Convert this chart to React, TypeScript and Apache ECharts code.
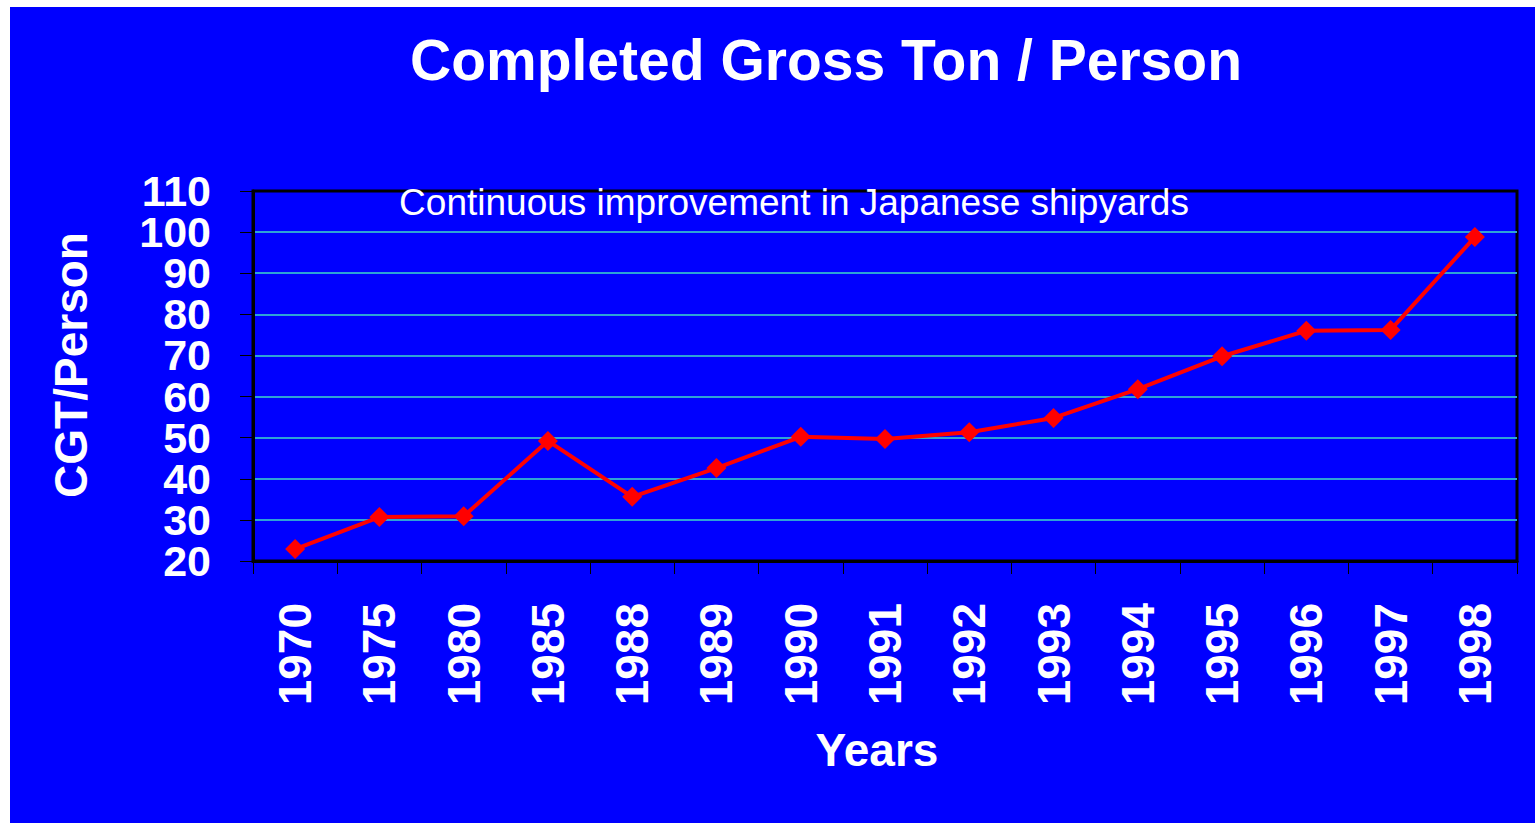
import React, { useEffect, useRef } from "react";
import * as echarts from "echarts";

const years = ["1970", "1975", "1980", "1985", "1988", "1989", "1990", "1991", "1992", "1993", "1994", "1995", "1996", "1997", "1998"];
const cgtPerPerson = [22.9, 30.7, 30.9, 49.2, 35.6, 42.6, 50.2, 49.7, 51.3, 54.8, 61.8, 69.8, 76.0, 76.2, 98.8];
const titleText = "Completed Gross Ton / Person";
const noteText = "Continuous improvement in Japanese shipyards";
const yAxisName = "CGT/Person";
const xAxisName = "Years";

export default function App() {
  const ref = useRef<HTMLDivElement>(null);
  useEffect(() => {
    const chart = echarts.init(ref.current!, null, { renderer: "svg" });
    const font = "Liberation Sans, Arial, sans-serif";
    const labelBase = {
      color: "#ffffff", fontFamily: font, fontWeight: "bold", fontSize: 43, lineHeight: 40, margin: 42,
      showMinLabel: true, showMaxLabel: true, hideOverlap: false,
    };
    chart.setOption({
      animation: false,
      backgroundColor: "#ffffff",
      graphic: [
        { type: "rect", z: -10, shape: { x: 10, y: 7, width: 1525, height: 816 }, style: { fill: "#0000ff" } },
        {
          type: "text", x: 826, y: 60, z: 10,
          style: { text: titleText, fill: "#ffffff", font: `bold 57px ${font}`, align: "center", verticalAlign: "middle" },
        },
        {
          type: "text", x: 794, y: 202, z: 10,
          style: { text: noteText, fill: "#ffffff", font: `37px ${font}`, align: "center", verticalAlign: "middle" },
        },
        {
          type: "text", x: 877, y: 750, z: 10,
          style: { text: xAxisName, fill: "#ffffff", font: `bold 46px ${font}`, align: "center", verticalAlign: "middle" },
        },
        {
          type: "text", x: 71, y: 365, rotation: Math.PI / 2, z: 10,
          style: { text: yAxisName, fill: "#ffffff", font: `bold 46px ${font}`, align: "center", verticalAlign: "middle" },
        },
      ],
      grid: {
        left: 253, right: 18, top: 191, bottom: 262,
        show: true, borderColor: "#000000", borderWidth: 3, backgroundColor: "transparent",
      },
      xAxis: {
        type: "category",
        data: years,
        boundaryGap: true,
        axisLine: { show: true, lineStyle: { color: "#000000", width: 3 } },
        axisTick: { show: true, length: 13, lineStyle: { color: "#000000", width: 1 } },
        axisLabel: { rotate: 90, color: "#ffffff", fontFamily: font, fontWeight: "bold", fontSize: 46, margin: 42 },
        splitLine: { show: false },
      },
      yAxis: [
        {
          type: "value",
          position: "left",
          min: 20, max: 110, interval: 10,
          axisLine: { show: true, lineStyle: { color: "#000000", width: 3 } },
          axisTick: { show: true, length: 13, lineStyle: { color: "#000000", width: 1 } },
          axisLabel: { ...labelBase, formatter: (v: number) => (Math.round(v / 10) % 2 === 0 ? String(v) : "") },
          splitLine: { show: true, showMinLine: false, showMaxLine: false, lineStyle: { color: "#2ea3d6", width: 2 } },
        },
        {
          type: "value",
          position: "left",
          offset: 0,
          min: 20, max: 110, interval: 10,
          axisLine: { show: false },
          axisTick: { show: false },
          axisLabel: { ...labelBase, formatter: (v: number) => (Math.round(v / 10) % 2 === 1 ? String(v) : "") },
          splitLine: { show: false },
        },
      ],
      series: [
        {
          type: "line",
          yAxisIndex: 0,
          data: cgtPerPerson,
          symbol: "diamond",
          symbolSize: 20,
          lineStyle: { color: "#ff0000", width: 4 },
          itemStyle: { color: "#ff0000" },
          z: 5,
        },
      ],
    });
    return () => chart.dispose();
  }, []);
  return <div ref={ref} style={{ position: "fixed", left: 0, top: 0, width: 1535, height: 823 }} />;
}
